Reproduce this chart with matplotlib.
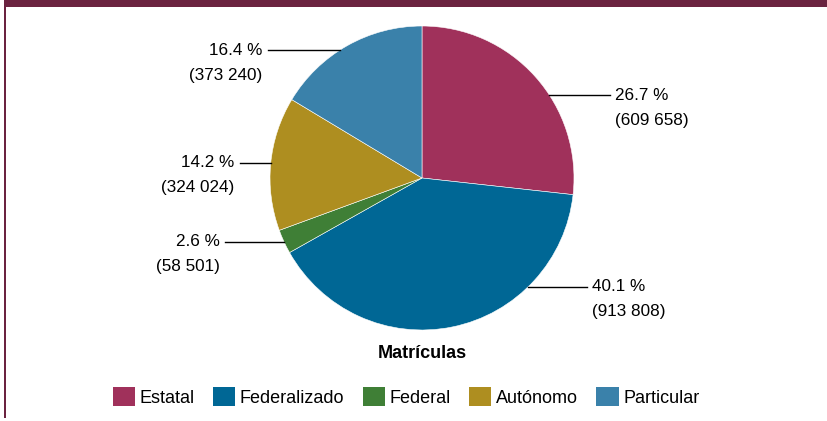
import matplotlib.pyplot as plt
from matplotlib.patches import Rectangle
import numpy as np

plt.rcParams['font.family'] = ['Liberation Sans', 'DejaVu Sans']

categories = ['Estatal', 'Federalizado', 'Federal', 'Autónomo', 'Particular']
matriculas = [609658, 913808, 58501, 324024, 373240]
colors = ['#A0315B', '#006795', '#3F7F36', '#AE8E20', '#3A81AA']

# leader lines: y of the line on the pie edge, end x of the line (data units)
label_y = [0.546, -0.717, -0.421, 0.099, 0.842]
label_end = [1.237, 1.085, -1.296, -1.197, -1.013]

W, H = 827, 421
fig = plt.figure(figsize=(W / 100, H / 100), dpi=100)

# frame: top bar and left border
fig.patches.append(Rectangle((4 / W, (H - 7) / H), 1, 7 / H, transform=fig.transFigure,
                             facecolor='#6B2340', edgecolor='none'))
fig.patches.append(Rectangle((3.5 / W, 3 / H), 2 / W, (H - 3) / H, transform=fig.transFigure,
                             facecolor='#6B2340', edgecolor='none'))

cx, cy, r = 422, 178, 152
ax = fig.add_axes([(cx - r) / W, (H - cy - r) / H, 2 * r / W, 2 * r / H])
ax.pie(matriculas, colors=colors, startangle=90, counterclock=False, radius=1,
       wedgeprops=dict(edgecolor='white', linewidth=0.4))
ax.set_xlim(-1, 1)
ax.set_ylim(-1, 1)
ax.set_aspect('equal')
ax.axis('off')

total = sum(matriculas)
for val, y, xe in zip(matriculas, label_y, label_end):
    side = 1 if xe > 0 else -1
    x0 = side * np.sqrt(1 - y ** 2)
    ax.plot([x0, xe], [y, y], color='black', lw=1, clip_on=False)
    pct = '{:.1f} %'.format(val / total * 100)
    num = '({:,})'.format(val).replace(',', ' ')
    tx = xe + side * 0.035
    ha = 'left' if side > 0 else 'right'
    ax.text(tx, y, pct, ha=ha, va='center', fontsize=12.3, clip_on=False)
    ax.text(tx, y - 25 / r, num, ha=ha, va='center', fontsize=12.3, clip_on=False)

fig.text(cx / W, (H - 354) / H, 'Matrículas', ha='center', va='center',
         fontsize=13, fontweight='bold')

handles = [Rectangle((0, 0), 1, 1, facecolor=c, edgecolor='none') for c in colors]
fig.legend(handles, categories, loc='center', bbox_to_anchor=(406 / W, (H - 397) / H),
           ncol=5, frameon=False, fontsize=13, handlelength=1.25, handleheight=1.25,
           handletextpad=0.25, columnspacing=1.0, borderpad=0)

fig.savefig('out.png', dpi=100)
